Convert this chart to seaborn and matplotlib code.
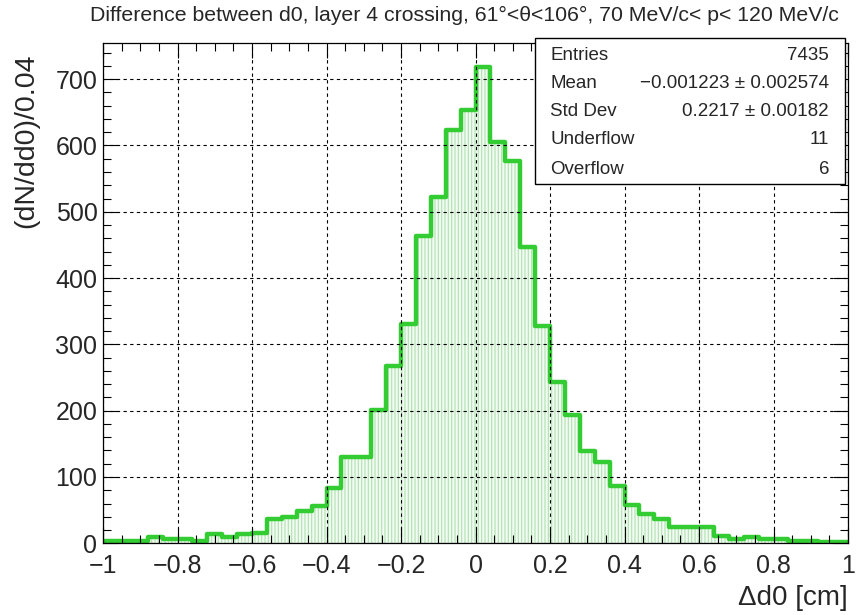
import numpy as np
import pandas as pd
import matplotlib
matplotlib.use("Agg")
import matplotlib.pyplot as plt
from matplotlib.ticker import MultipleLocator
from matplotlib.patches import Rectangle
import seaborn as sns

# ---------------- data ----------------
bin_low = -1.0
bin_high = 1.0
n_bins = 50
counts = [4, 3, 4, 9, 7, 7, 4, 14, 9, 14,
          15, 36, 39, 48, 56, 83, 130, 130, 201, 268,
          330, 464, 523, 624, 653, 718, 605, 577, 447, 328,
          243, 194, 139, 122, 87, 58, 44, 37, 24, 24,
          24, 11, 6, 9, 7, 6, 4, 4, 2, 2]
stat_names = ["Entries", "Mean", "Std Dev", "Underflow", "Overflow"]
stat_values = ["7435", "\u22120.001223 \u00b1 0.002574", "0.2217 \u00b1 0.00182", "11", "6"]
title = "Difference between d0, layer 4 crossing, 61\u00b0<\u03b8<106\u00b0, 70 MeV/c< p< 120 MeV/c"
xlabel = "\u0394d0 [cm]"
ylabel = "(dN/dd0)/0.04"

edges = np.linspace(bin_low, bin_high, n_bins + 1)
centers = 0.5 * (edges[:-1] + edges[1:])
df = pd.DataFrame({"d0": centers, "n": np.asarray(counts, dtype=float)})
binw = (bin_high - bin_low) / n_bins

# ---------------- style ----------------
sns.set_style("white")
plt.rcParams["font.family"] = ["Liberation Sans", "DejaVu Sans"]
plt.rcParams["hatch.linewidth"] = 0.9
plt.rcParams["hatch.color"] = "#b4e6b4"

line_green = "#33cc33"

fig = plt.figure(figsize=(8.61, 6.15), dpi=100)
ax = fig.add_axes([103 / 861, 1 - 543.3 / 615, (848 - 103) / 861, (543.3 - 42.7) / 615])

# fill
sns.histplot(data=df, x="d0", weights="n", binwidth=binw, binrange=(bin_low, bin_high),
             element="step", fill=True, ax=ax, color="#b4e6b4", alpha=1.0, linewidth=0)
fill_coll = ax.collections[-1]
fill_coll.set_facecolor("#f4fbf4")
fill_coll.set_edgecolor("#b4e6b4")
fill_coll.set_hatch("|||||")
fill_coll.set_linewidth(0)

# outline
sns.histplot(data=df, x="d0", weights="n", binwidth=binw, binrange=(bin_low, bin_high),
             element="step", fill=False, ax=ax, color=line_green, linewidth=3.2)

ax.set_xlim(bin_low, bin_high)
ax.set_ylim(0, 755)

ax.xaxis.set_major_locator(MultipleLocator(0.2))
ax.xaxis.set_minor_locator(MultipleLocator(0.05))
ax.yaxis.set_major_locator(MultipleLocator(100))
ax.yaxis.set_minor_locator(MultipleLocator(20))

ax.grid(True, which="major", color="black", linestyle=(0, (3, 3)), linewidth=0.8)
ax.set_axisbelow(False)

ax.tick_params(which="both", direction="in", top=True, right=True, bottom=True, left=True,
               color="black", width=0.8)
ax.tick_params(which="major", length=11, labelsize=18)
ax.tick_params(axis="x", which="major", pad=8)
ax.tick_params(axis="y", which="major", pad=4)
ax.tick_params(which="minor", length=6)

def fmt(v, pos):
    if abs(v) < 1e-9:
        return "0"
    s = ("%g" % round(v, 3))
    return s.replace("-", "\u2212")
ax.xaxis.set_major_formatter(plt.FuncFormatter(fmt))

for sp in ax.spines.values():
    sp.set_color("black")
    sp.set_linewidth(0.9)

ax.set_xlabel("")
ax.set_ylabel("")
fig.text(848 / 861, 1 - 598 / 615, xlabel, ha="right", va="center", fontsize=20)
fig.text(26 / 861, 1 - 53 / 615, ylabel, ha="center", va="top", rotation=90, fontsize=20.5)
fig.text(464 / 861, 1 - 15 / 615, title, ha="center", va="center", fontsize=15.3)

# stats box
bx0, bx1, by0, by1 = 535, 845, 38, 184
fig.add_artist(Rectangle((bx0 / 861, 1 - by1 / 615), (bx1 - bx0) / 861, (by1 - by0) / 615,
                         transform=fig.transFigure, facecolor="white", edgecolor="black",
                         linewidth=1.0, zorder=10))
row_y = [55, 83, 112, 140, 170]
for name, val, yy in zip(stat_names, stat_values, row_y):
    fig.text(550 / 861, 1 - yy / 615, name, ha="left", va="center", fontsize=13.5, zorder=11)
    fig.text(829 / 861, 1 - yy / 615, val, ha="right", va="center", fontsize=13.5, zorder=11)

fig.savefig("out.png", dpi=100)
